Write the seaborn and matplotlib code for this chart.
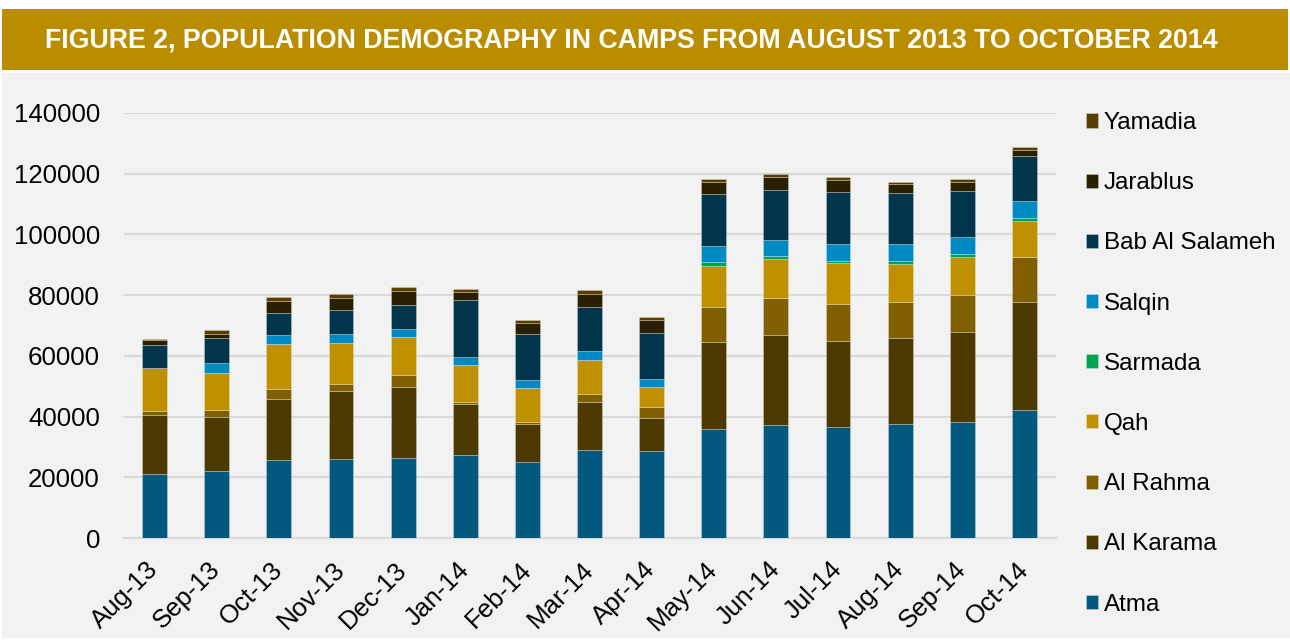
import numpy as np
import pandas as pd
import seaborn as sns
import matplotlib.pyplot as plt
from matplotlib.patches import Rectangle

# dati (popolazione per campo e mese)
months = ["Aug-13", "Sep-13", "Oct-13", "Nov-13", "Dec-13", "Jan-14", "Feb-14", "Mar-14",
          "Apr-14", "May-14", "Jun-14", "Jul-14", "Aug-14", "Sep-14", "Oct-14"]

atma = [21200, 22200, 25800, 25900, 26500, 27300, 25100, 29100, 28500, 35800, 37200, 36500, 37600, 38200, 42200]
al_karama = [19400, 17500, 20100, 22500, 23400, 16700, 12300, 15800, 11100, 28800, 29700, 28400, 28400, 29800, 35400]
al_rahma = [1300, 2500, 3300, 2400, 3900, 700, 700, 2400, 3500, 11400, 12200, 12200, 11600, 12000, 15100]
qah = [14100, 12300, 14800, 13500, 12300, 12200, 11200, 11300, 6500, 13700, 12700, 13400, 12800, 12700, 11700]
sarmada = [0, 0, 0, 0, 0, 0, 0, 0, 0, 1200, 1100, 900, 900, 900, 900]
salqin = [0, 3200, 3000, 2900, 2600, 2700, 2600, 2900, 2700, 5300, 5400, 5400, 5700, 5700, 5800]
bab_al_salameh = [7700, 8300, 7200, 7800, 8200, 18900, 15400, 14700, 15200, 17100, 16400, 17200, 16500, 15000, 14700]
jarablus = [1400, 1300, 3900, 4200, 4500, 2700, 3500, 4200, 4200, 4000, 4200, 4000, 3000, 2900, 2000]
yamadia = [300, 1200, 1400, 1200, 1300, 900, 900, 1200, 1000, 1100, 1000, 900, 900, 900, 1000]

camps = ["Atma", "Al Karama", "Al Rahma", "Qah", "Sarmada", "Salqin",
         "Bab Al Salameh", "Jarablus", "Yamadia"]
colori = ["#02597D", "#4C3900", "#7F5F00", "#BF9000", "#00A350",
          "#008AC4", "#00354B", "#2A2000", "#573F00"]

df = pd.DataFrame({"month": months, "Atma": atma, "Al Karama": al_karama,
                   "Al Rahma": al_rahma, "Qah": qah, "Sarmada": sarmada,
                   "Salqin": salqin, "Bab Al Salameh": bab_al_salameh,
                   "Jarablus": jarablus, "Yamadia": yamadia})

sns.set_style("white")
plt.rcParams["font.family"] = ["Liberation Sans", "DejaVu Sans"]
plt.rcParams["text.color"] = "black"

fig = plt.figure(figsize=(12.9, 6.41), dpi=100, facecolor="white")
W, H = 1290, 641

# fascia del titolo e pannello grigio (sotto gli assi)
fig.patches.append(Rectangle((2 / W, 1 - 70 / H), 1286 / W, 61 / H, transform=fig.transFigure,
                             facecolor="#BA8D00", edgecolor="none", zorder=-10))
fig.patches.append(Rectangle((2 / W, 3 / H), 1288 / W, (638 - 73) / H, transform=fig.transFigure,
                             facecolor="#F2F2F2", edgecolor="none", zorder=-10))
fig.text(45 / W, 1 - 40 / H, "FIGURE 2, POPULATION DEMOGRAPHY IN CAMPS FROM AUGUST 2013 TO OCTOBER 2014",
         color="white", fontsize=19.3, fontweight="bold", ha="left", va="center")

ax = fig.add_axes([123.5 / W, 103 / H, 932 / W, 425 / H])
ax.set_facecolor("none")

bottom = np.zeros(len(months))
for camp, col in zip(camps, colori):
    sns.barplot(data=df, x="month", y=camp, color=col, saturation=1, width=0.4, bottom=bottom,
                edgecolor=(1, 1, 1, 0.3), linewidth=0.6, label=camp, ax=ax, zorder=3)
    bottom = bottom + df[camp].to_numpy()

ax.set_ylim(0, 140000)
ax.set_xlim(-0.5, len(months) - 0.5)
ax.set_yticks(range(0, 140001, 20000))
ax.yaxis.grid(True, color="#D9D9D9", linewidth=1.5, zorder=0)
ax.set_axisbelow(True)
for s in ["top", "right", "left"]:
    ax.spines[s].set_visible(False)
ax.spines["bottom"].set_color("#D9D9D9")
ax.spines["bottom"].set_linewidth(1.5)
ax.set_xlabel("")
ax.set_ylabel("")
ax.tick_params(axis="both", length=0, labelsize=18.6, labelcolor="black")
ax.tick_params(axis="y", pad=17)
ax.tick_params(axis="x", pad=20)
plt.setp(ax.get_xticklabels(), rotation=45, ha="right", va="center", rotation_mode="anchor")

handles, labels = ax.get_legend_handles_labels()
leg = ax.legend(handles[::-1], labels[::-1], loc="upper left", bbox_to_anchor=(1.022, 1.025),
                frameon=False, fontsize=17.4, handlelength=0.52, handleheight=0.52,
                handletextpad=0.22, labelspacing=1.58, borderaxespad=0)

fig.savefig("out.png", dpi=100, facecolor="white")
